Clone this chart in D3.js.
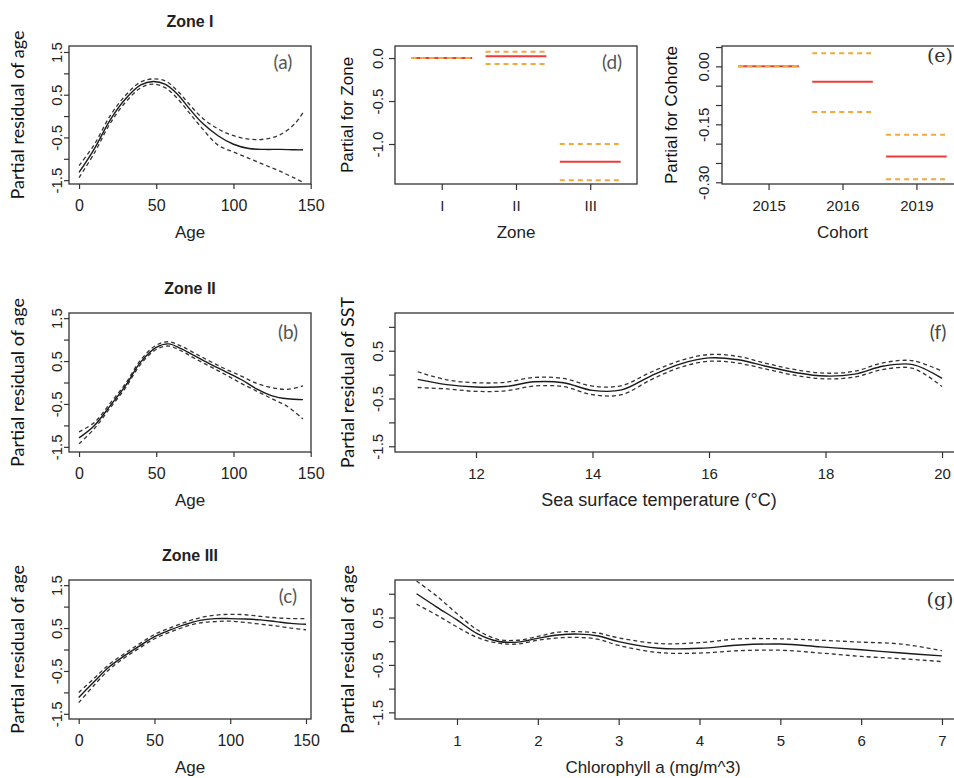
<!DOCTYPE html>
<html>
<head>
<meta charset="utf-8">
<script src="https://cdn.jsdelivr.net/npm/d3@7"></script>
<style>
  body { margin: 0; background: #fff; }
  svg { display: block; }
</style>
</head>
<body>
<script>
// ---- data ----
// (a) Zone I, partial residual of age
const ageA = [0, 10, 20, 30, 40, 48, 56, 64, 72, 80, 90, 100, 110, 120, 130, 140, 145];
const fitA = [-1.32, -0.76, -0.10, 0.40, 0.73, 0.81, 0.74, 0.50, 0.15, -0.17, -0.46, -0.66, -0.76, -0.78, -0.78, -0.79, -0.79];
const upA  = [-1.16, -0.66, 0.00, 0.48, 0.80, 0.87, 0.82, 0.58, 0.25, -0.05, -0.30, -0.46, -0.54, -0.54, -0.44, -0.17, 0.08];
const loA  = [-1.44, -0.86, -0.18, 0.32, 0.66, 0.75, 0.66, 0.40, 0.05, -0.30, -0.68, -0.84, -0.99, -1.14, -1.29, -1.46, -1.55];

// (b) Zone II
const ageB = [0, 10, 20, 30, 40, 50, 58, 66, 75, 85, 95, 105, 115, 125, 135, 145];
const fitB = [-1.29, -1.00, -0.55, -0.08, 0.48, 0.82, 0.90, 0.79, 0.62, 0.43, 0.25, 0.07, -0.15, -0.31, -0.38, -0.40];
const upB  = [-1.15, -0.93, -0.49, -0.03, 0.53, 0.87, 0.95, 0.85, 0.68, 0.49, 0.31, 0.15, -0.02, -0.12, -0.16, -0.08];
const loB  = [-1.43, -1.07, -0.60, -0.13, 0.43, 0.77, 0.85, 0.74, 0.56, 0.37, 0.18, -0.02, -0.20, -0.38, -0.56, -0.85];

// (c) Zone III
const ageC = [0, 10, 20, 30, 40, 50, 60, 70, 80, 90, 100, 110, 120, 130, 140, 150];
const fitC = [-1.12, -0.76, -0.41, -0.15, 0.08, 0.30, 0.45, 0.58, 0.68, 0.72, 0.72, 0.71, 0.69, 0.65, 0.61, 0.59];
const upC  = [-1.00, -0.68, -0.35, -0.10, 0.13, 0.35, 0.50, 0.63, 0.74, 0.80, 0.82, 0.81, 0.77, 0.74, 0.72, 0.72];
const loC  = [-1.24, -0.84, -0.47, -0.20, 0.03, 0.25, 0.40, 0.53, 0.62, 0.65, 0.66, 0.63, 0.59, 0.55, 0.50, 0.46];

// (d) Zone factor
const zoneCats = ["I", "II", "III"];
const zoneFit = [0, 0.02, -1.205];
const zoneUp  = [0, 0.073, -1.0];
const zoneLo  = [0, -0.07, -1.42];

// (e) Cohort factor
const cohortCats = ["2015", "2016", "2019"];
const cohortFit = [0, -0.040, -0.233];
const cohortUp  = [0, 0.034, -0.177];
const cohortLo  = [0, -0.118, -0.292];

// (f) SST
const sst    = [11, 11.5, 12, 12.5, 13, 13.5, 14, 14.5, 15, 15.5, 16, 16.5, 17, 17.5, 18, 18.5, 19, 19.5, 20];
const sstFit = [-0.10, -0.21, -0.26, -0.25, -0.15, -0.17, -0.33, -0.32, -0.03, 0.22, 0.35, 0.31, 0.17, 0.04, -0.03, 0.01, 0.18, 0.21, -0.08];
const sstUp  = [0.06, -0.11, -0.17, -0.16, -0.06, -0.08, -0.24, -0.23, 0.05, 0.29, 0.42, 0.38, 0.23, 0.10, 0.03, 0.07, 0.25, 0.29, 0.07];
const sstLo  = [-0.27, -0.30, -0.35, -0.34, -0.24, -0.25, -0.42, -0.42, -0.11, 0.15, 0.28, 0.24, 0.11, -0.02, -0.09, -0.05, 0.11, 0.13, -0.25];

// (g) Chlorophyll a
const chl    = [0.5, 0.75, 1, 1.25, 1.5, 1.75, 2, 2.25, 2.5, 2.75, 3, 3.5, 4, 4.5, 5, 5.5, 6, 6.5, 7];
const chlFit = [1.00, 0.72, 0.45, 0.16, 0.00, -0.02, 0.06, 0.13, 0.15, 0.11, -0.01, -0.15, -0.15, -0.08, -0.06, -0.12, -0.18, -0.25, -0.31];
const chlUp  = [1.27, 0.95, 0.58, 0.24, 0.04, 0.02, 0.10, 0.19, 0.20, 0.17, 0.07, -0.05, -0.03, 0.05, 0.05, 0.02, -0.02, -0.06, -0.20];
const chlLo  = [0.78, 0.55, 0.30, 0.08, -0.04, -0.06, 0.02, 0.07, 0.08, 0.04, -0.09, -0.24, -0.25, -0.20, -0.19, -0.25, -0.32, -0.37, -0.43];

// ticks
const ageTicks = [0, 50, 100, 150];
const resTicks = [-1.5, -1, -0.5, 0, 0.5, 1, 1.5];
const resShown = [-1.5, -0.5, 0.5, 1.5];
const envTicks = [-1.5, -1, -0.5, 0, 0.5, 1];
const envShown = [-1.5, -0.5, 0.5];
const zoneTicks = [0, -0.5, -1];
const cohortTicks = [0.05, 0, -0.05, -0.1, -0.15, -0.2, -0.25, -0.3];
const cohortShown = [0, -0.15, -0.3];
const sstTicks = [12, 14, 16, 18, 20];
const chlTicks = [1, 2, 3, 4, 5, 6, 7];

const W = 954, H = 778;
const svg = d3.select('body').append('svg').attr('width', W).attr('height', H);

const sans = 'Liberation Sans, Arial, sans-serif';
const lato = 'Lato, sans-serif';

function makePanel(p) {
  const x = d3.scaleLinear().domain(p.xDomain).range([p.left, p.left + p.w]);
  const y = d3.scaleLinear().domain(p.yDomain).range([p.top + p.h, p.top]);
  const g = svg.append('g');
  const tick = p.tick || 6;

  // y axis
  const ya = g.append('g')
    .attr('transform', `translate(${p.left},0)`)
    .call(d3.axisLeft(y).tickValues(p.yTicks).tickSize(tick)
      .tickFormat(d => p.yShow.includes(d) ? d.toFixed(p.yDec) : ''));
  ya.select('.domain').remove();
  ya.selectAll('line').attr('stroke', '#333').attr('stroke-width', 1.2);
  ya.selectAll('text')
    .attr('transform', 'rotate(-90)')
    .attr('x', 0).attr('y', -(p.yLabOff - 5.5)).attr('dy', 0)
    .attr('text-anchor', 'middle')
    .style('font-family', sans).style('font-size', '15px').attr('fill', '#222');

  // x axis
  const xa = g.append('g')
    .attr('transform', `translate(0,${p.top + p.h})`)
    .call(d3.axisBottom(x).tickValues(p.xTicks).tickSize(tick)
      .tickFormat((d, i) => p.xLabels ? p.xLabels[i] : d));
  xa.select('.domain').remove();
  xa.selectAll('line').attr('stroke', '#333').attr('stroke-width', 1.2);
  xa.selectAll('text')
    .attr('y', 16).attr('dy', '0.71em')
    .style('font-family', sans).style('font-size', p.xTickSize || '15px').attr('fill', '#222');

  // frame
  g.append('rect')
    .attr('x', p.left).attr('y', p.top).attr('width', p.w).attr('height', p.h)
    .attr('fill', 'none').attr('stroke', '#333').attr('stroke-width', 1.3);

  // axis titles
  g.append('text')
    .attr('transform', `translate(${p.yTitleX + 6},${p.top + p.h / 2}) rotate(-90)`)
    .attr('text-anchor', 'middle')
    .style('font-family', p.yTitleFont || lato).style('font-size', (p.yTitleSize || 18) + 'px')
    .attr('fill', '#111')
    .text(p.yTitle);
  g.append('text')
    .attr('x', p.left + p.w / 2 + (p.xTitleShift || 0)).attr('y', p.top + p.h + 54)
    .attr('text-anchor', 'middle')
    .style('font-family', sans).style('font-size', (p.xTitleSize || 17) + 'px').attr('fill', '#222')
    .text(p.xTitle);

  // panel tag
  g.append('text')
    .attr('x', p.tag[0]).attr('y', p.tag[1] + 6)
    .attr('text-anchor', 'middle')
    .style('font-family', p.tagFont || lato).style('font-size', '19px')
    .attr('fill', p.tagColor || '#555')
    .text(p.tagText);

  if (p.title) {
    g.append('text')
      .attr('x', p.left + p.w / 2).attr('y', p.top - 19)
      .attr('text-anchor', 'middle')
      .style('font-family', sans).style('font-size', '16px').style('font-weight', 'bold')
      .attr('fill', '#222')
      .text(p.title);
  }
  return { g, x, y };
}

function smoothTerm(pn, xs, fit, up, lo) {
  const line = d3.line().x(d => pn.x(d[0])).y(d => pn.y(d[1])).curve(d3.curveCatmullRom);
  const z = (a) => xs.map((v, i) => [v, a[i]]);
  pn.g.append('path').attr('d', line(z(up))).attr('fill', 'none')
    .attr('stroke', '#333').attr('stroke-width', 1.3).attr('stroke-dasharray', '4,3');
  pn.g.append('path').attr('d', line(z(lo))).attr('fill', 'none')
    .attr('stroke', '#333').attr('stroke-width', 1.3).attr('stroke-dasharray', '4,3');
  pn.g.append('path').attr('d', line(z(fit))).attr('fill', 'none')
    .attr('stroke', '#1a1a1a').attr('stroke-width', 1.4);
}

function factorTerm(pn, fit, up, lo) {
  const half = 0.41;
  fit.forEach((v, i) => {
    const c = i + 1;
    pn.g.append('line')
      .attr('x1', pn.x(c - half)).attr('x2', pn.x(c + half))
      .attr('y1', pn.y(v)).attr('y2', pn.y(v))
      .attr('stroke', '#ee3b3b').attr('stroke-width', 2);
    [up[i], lo[i]].forEach(b => {
      pn.g.append('line')
        .attr('x1', pn.x(c - half)).attr('x2', pn.x(c + half))
        .attr('y1', pn.y(b)).attr('y2', pn.y(b))
        .attr('stroke', '#f2a93b').attr('stroke-width', 2).attr('stroke-dasharray', '5,4');
    });
  });
}

// left column
const pa = makePanel({
  left: 69, top: 46, w: 242, h: 138, tick: 5,
  xDomain: [-6.5, 150.2], yDomain: [-1.59, 1.64],
  xTicks: ageTicks, yTicks: resTicks, yShow: resShown, yDec: 1, yLabOff: 13,
  yTitle: 'Partial residual of age', yTitleX: 18, xTitle: 'Age', xTickSize: '16px',
  tag: [283, 63], tagText: '(a)', title: 'Zone I'
});
smoothTerm(pa, ageA, fitA, upA, loA);

const pb = makePanel({
  left: 69, top: 313, w: 242, h: 139, tick: 5,
  xDomain: [-6.5, 150.2], yDomain: [-1.62, 1.62],
  xTicks: ageTicks, yTicks: resTicks, yShow: resShown, yDec: 1, yLabOff: 13,
  yTitle: 'Partial residual of age', yTitleX: 18, xTitle: 'Age', xTickSize: '16px',
  tag: [288, 333], tagText: '(b)', title: 'Zone II'
});
smoothTerm(pb, ageB, fitB, upB, loB);

const pc = makePanel({
  left: 69, top: 580, w: 242, h: 139, tick: 5,
  xDomain: [-6.4, 153.3], yDomain: [-1.62, 1.62],
  xTicks: ageTicks, yTicks: resTicks, yShow: resShown, yDec: 1, yLabOff: 13,
  yTitle: 'Partial residual of age', yTitleX: 18, xTitle: 'Age', xTickSize: '16px',
  tag: [288, 597], tagText: '(c)', title: 'Zone III'
});
smoothTerm(pc, ageC, fitC, upC, loC);

// factor panels
const pd = makePanel({
  left: 395, top: 46, w: 242, h: 138,
  xDomain: [0.37, 3.63], yDomain: [-1.465, 0.14],
  xTicks: [1, 2, 3], xLabels: zoneCats,
  yTicks: zoneTicks, yShow: zoneTicks, yDec: 1, yLabOff: 17.5,
  yTitle: 'Partial for Zone', yTitleX: 347, yTitleFont: sans, yTitleSize: 17, xTitle: 'Zone',
  tag: [612, 63], tagText: '(d)'
});
factorTerm(pd, zoneFit, zoneUp, zoneLo);

const pe = makePanel({
  left: 722, top: 46, w: 241, h: 138,
  xDomain: [0.37, 3.63], yDomain: [-0.3044, 0.0527],
  xTicks: [1, 2, 3], xLabels: cohortCats,
  yTicks: cohortTicks, yShow: cohortShown, yDec: 2, yLabOff: 18.5,
  yTitle: 'Partial for Cohorte', yTitleX: 671, yTitleFont: sans, yTitleSize: 17, xTitle: 'Cohort',
  tag: [940, 56], tagText: '(e)', tagFont: 'DejaVu Serif, serif', tagColor: '#333'
});
factorTerm(pe, cohortFit, cohortUp, cohortLo);

// environmental panels
const pf = makePanel({
  left: 395, top: 313, w: 568, h: 139,
  xDomain: [10.61, 20.36], yDomain: [-1.62, 1.29],
  xTicks: sstTicks, yTicks: envTicks, yShow: envShown, yDec: 1, yLabOff: 18,
  yTitle: 'Partial residual of SST', yTitleX: 348, xTitle: 'Sea surface temperature (°C)',
  xTitleShift: -20, xTitleSize: 18,
  tag: [938, 333], tagText: '(f)', tagColor: '#444'
});
smoothTerm(pf, sst, sstFit, sstUp, sstLo);

const pg = makePanel({
  left: 395, top: 580, w: 568, h: 139,
  xDomain: [0.233, 7.26], yDomain: [-1.64, 1.29],
  xTicks: chlTicks, yTicks: envTicks, yShow: envShown, yDec: 1, yLabOff: 18,
  yTitle: 'Partial residual of age', yTitleX: 348, xTitle: 'Chlorophyll a (mg/m^3)',
  xTitleShift: -26,
  tag: [940, 600], tagText: '(g)', tagFont: 'DejaVu Serif, serif', tagColor: '#333'
});
smoothTerm(pg, chl, chlFit, chlUp, chlLo);
</script>
</body>
</html>
